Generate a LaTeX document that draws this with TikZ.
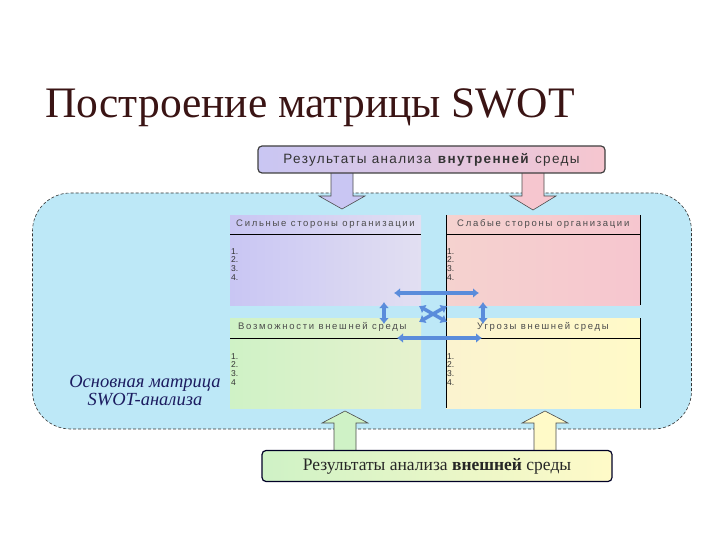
\documentclass[tikz,border=0pt]{standalone}
\usepackage{fontspec}
\setmainfont{Liberation Serif}
\setsansfont{Liberation Sans}
\newfontfamily\hdrfont[LetterSpace=18]{Liberation Sans}
\newfontfamily\boxfont[LetterSpace=10]{Liberation Sans}
\usetikzlibrary{arrows.meta}

\definecolor{bgblue}{HTML}{BDE8F7}
\definecolor{lavA}{HTML}{C9C6F3}
\definecolor{lavB}{HTML}{E2DFF2}
\definecolor{pinkA}{HTML}{F6C6CF}
\definecolor{pinkB}{HTML}{F5D2CF}
\definecolor{grnA}{HTML}{CFF2C6}
\definecolor{grnB}{HTML}{E6F2CE}
\definecolor{ylwA}{HTML}{FBF3CF}
\definecolor{ylwB}{HTML}{FFFAC8}
\definecolor{arrblue}{HTML}{5A8CDB}
\definecolor{titlered}{HTML}{3A1414}
\definecolor{navy}{HTML}{1C1C60}

\tikzset{
  quad/.style={inner sep=0pt, anchor=north west},
  hdr/.style={font=\hdrfont\fontsize{9.5}{10}\selectfont, text=black!70, anchor=west, inner sep=0pt},
  nums/.style={font=\sffamily\fontsize{8.5}{8.7}\selectfont, align=left, anchor=north west, inner sep=0pt, text=black!80},
  dbl/.style={draw=arrblue, line width=3.5pt, {Latex[length=6pt,width=10pt]}-{Latex[length=6pt,width=10pt]}},
  resbox/.style={draw=black!75, line width=1.2pt, rounded corners=4pt, inner sep=0pt}
}

\newcommand{\myBlockArrow}[5]{
\filldraw[fill=#5, draw=black!70, line width=.6pt]
  (#1-11,#2) -- (#1-11,#3) -- (#1-23,#3) -- (#1,#4) -- (#1+23,#3) -- (#1+11,#3) -- (#1+11,#2) -- cycle;
}

\begin{document}
\begin{tikzpicture}[x=1pt,y=-1pt]
	\useasboundingbox (0,0) rectangle (720,540);

	% title
	\node[anchor=base west, inner sep=0pt, text=titlered, font=\fontsize{43.5}{48}\selectfont] (title) at (45,118) {Построение матрицы SWOT};

	% main zone
	\node[draw=black!80, densely dashed, line width=.6pt, fill=bgblue, rounded corners=38pt, minimum width=659pt, minimum height=236pt, inner sep=0pt] (main) at (362,311) {};

	% block arrows
	\myBlockArrow{342}{172}{196}{209}{lavA}
	\myBlockArrow{533}{172}{196}{210}{pinkA}
	\myBlockArrow{345}{452}{423}{411}{grnA}
	\myBlockArrow{545}{452}{423}{411}{ylwB}

	% quadrants
	\node[quad, minimum width=191pt, minimum height=90pt, left color=lavA, right color=lavB] (S) at (230,215) {};
	\node[quad, minimum width=194pt, minimum height=90pt, left color=pinkB, right color=pinkA] (W) at (446,215) {};
	\node[quad, minimum width=191pt, minimum height=90pt, left color=grnA, right color=grnB] (O) at (230,318) {};
	\node[quad, minimum width=194pt, minimum height=90pt, left color=ylwA, right color=ylwB] (T) at (446,318) {};

	\node[hdr] (Sh) at (236,224.5) {Сильные стороны организации};
	\node[hdr] (Wh) at (457,224.5) {Слабые стороны организации};
	\node[hdr] (Oh) at (238,327) {Возможности внешней среды};
	\node[hdr] (Th) at (477,327) {Угрозы внешней среды};

	\draw[black, line width=.8pt] (230,234) -- (421,234);
	\draw[black, line width=.8pt] (446,234) -- (640,234);
	\draw[black, line width=.8pt] (230,338) -- (640,338);
	\draw[black, line width=.8pt] (446,215) -- (446,408);
	\draw[black, line width=.8pt] (640,215) -- (640,305);
	\draw[black, line width=.8pt] (640,318) -- (640,408);

	\node[nums] (Sn) at (231,248) {1.\\2.\\3.\\4.};
	\node[nums] (Wn) at (447,248) {1.\\2.\\3.\\4.};
	\node[nums] (On) at (231,353) {1.\\2.\\3.\\4};
	\node[nums] (Tn) at (447,353) {1.\\2.\\3.\\4.};

	% links between quadrants
	\coordinate (h1l) at (394,293); \coordinate (h1r) at (479,293);
	\coordinate (h2l) at (397,338); \coordinate (h2r) at (482,338);
	\coordinate (v1t) at (384,302); \coordinate (v1b) at (384,324);
	\coordinate (v2t) at (483,302); \coordinate (v2b) at (483,324);
	\draw[dbl] (h1l) -- (h1r);
	\draw[dbl] (h2l) -- (h2r);
	\draw[dbl] (v1t) -- (v1b);
	\draw[dbl] (v2t) -- (v2b);
	\coordinate (x1) at (419,306); \coordinate (x2) at (447,322);
	\coordinate (x3) at (419,322); \coordinate (x4) at (447,306);
	\draw[dbl, line width=3.5pt] (x1) -- (x2);
	\draw[dbl, line width=3.5pt] (x3) -- (x4);

	\node[align=center, text=navy, font=\itshape\fontsize{18.5}{18}\selectfont] (lbl) at (145,391) {Основная матрица\\SWOT-анализа};

	% result boxes
	\node[resbox, minimum width=347pt, minimum height=27pt, left color=lavA, right color=pinkA, font=\boxfont\fontsize{13.5}{14}\selectfont, text=black!80] (inner) at (431.5,159.5) {Результаты анализа \textbf{внутренней} среды};
	\node[resbox, draw=black!85!blue, minimum width=350pt, minimum height=31pt, left color=grnA, right color=ylwB, font=\fontsize{17.5}{18}\selectfont, text=black!85] (outer) at (437,466) {Результаты анализа \textbf{внешней} среды};
\end{tikzpicture}
\end{document}
